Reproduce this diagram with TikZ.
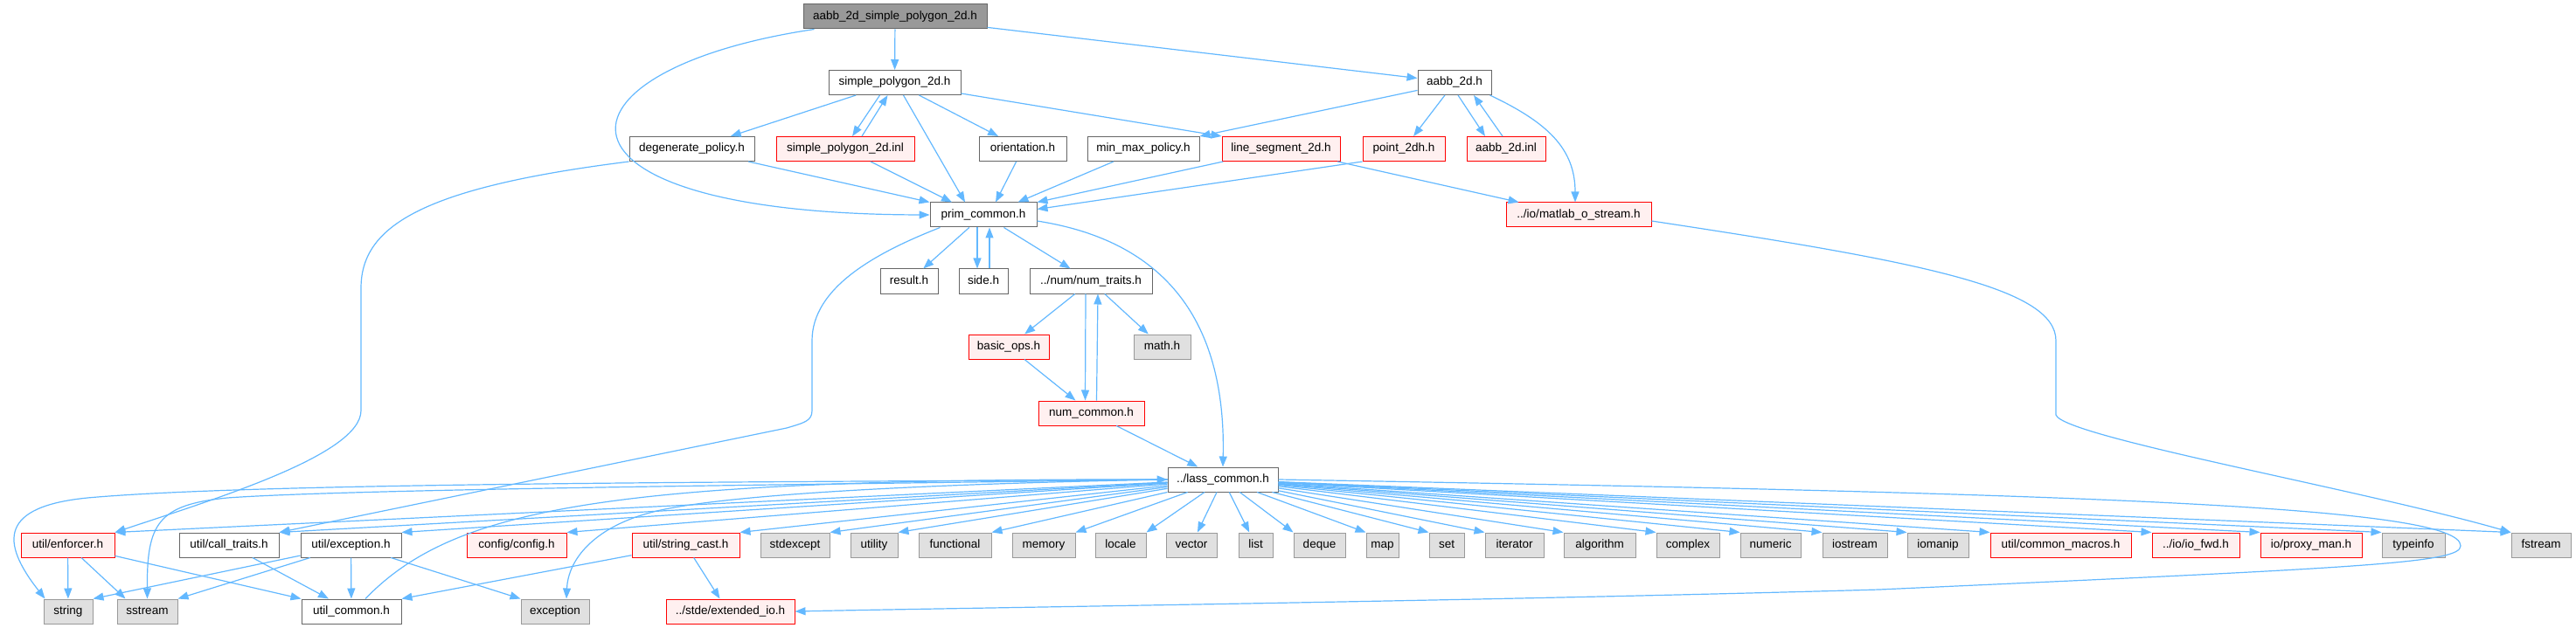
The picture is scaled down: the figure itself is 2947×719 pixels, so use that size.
\documentclass[tikz,border=0pt]{standalone}
\usepackage{fontspec}
\setmainfont{Liberation Sans}
\usetikzlibrary{arrows.meta,positioning}
\definecolor{depblue}{HTML}{63B8FF}
\definecolor{boxgray}{HTML}{666666}
\definecolor{sysline}{HTML}{999999}
\definecolor{sysfill}{HTML}{E0E0E0}
\definecolor{missfill}{HTML}{FFF0F0}
\definecolor{mainfill}{HTML}{999999}

\begin{document}
\begin{tikzpicture}[x=1pt, y=-1pt,
		file/.style={draw=boxgray, fill=white, line width=1pt, minimum height=28pt, inner xsep=2pt, inner ysep=0pt,
			text height=10pt, text depth=3pt, font=\fontsize{13.5}{16}\selectfont},
		sys/.style={file, draw=sysline, fill=sysfill},
		miss/.style={file, draw=red, fill=missfill},
		mainfile/.style={file, fill=mainfill},
		dep/.style={draw=depblue, line width=1.2pt, -{Triangle[length=12pt,width=9pt]}}]
		\useasboundingbox (0,0) rectangle (2947,719);

		\node[mainfile, minimum width=210pt] (top) at (1024,19) {aabb\_2d\_simple\_polygon\_2d.h};

		\node[file, minimum width=151pt] (spoly) at (1023.5,94.5) {simple\_polygon\_2d.h};
		\node[file, minimum width=84pt] (aabb) at (1664,94.5) {aabb\_2d.h};

		\node[file, minimum width=143pt] (degen) at (791.5,170.5) {degenerate\_policy.h};
		\node[miss, minimum width=158pt] (spinl) at (967,170.5) {simple\_polygon\_2d.inl};
		\node[file, minimum width=100pt] (orient) at (1170,170.5) {orientation.h};
		\node[file, minimum width=128pt] (minmax) at (1308,170.5) {min\_max\_policy.h};
		\node[miss, minimum width=135pt] (lineseg) at (1465.5,170.5) {line\_segment\_2d.h};
		\node[miss, minimum width=94pt] (point) at (1606,170.5) {point\_2dh.h};
		\node[miss, minimum width=90pt] (aabbinl) at (1723,170.5) {aabb\_2d.inl};

		\node[file, minimum width=122pt] (prim) at (1125,246) {prim\_common.h};
		\node[miss, minimum width=166pt] (matlab) at (1806,246) {../io/matlab\_o\_stream.h};

		\node[file, minimum width=66pt] (result) at (1040,322) {result.h};
		\node[file, minimum width=56pt] (side) at (1125,322) {side.h};
		\node[file, minimum width=140pt] (numtraits) at (1248,322) {../num/num\_traits.h};

		\node[miss, minimum width=92pt] (basicops) at (1154,397) {basic\_ops.h};
		\node[sys, minimum width=65pt] (math) at (1329.5,397) {math.h};
		\node[miss, minimum width=121pt] (numcommon) at (1248.5,473) {num\_common.h};
		\node[file, minimum width=126pt] (lass) at (1399,549) {../lass\_common.h};

		\node[miss, minimum width=107pt] (enforcer) at (77.5,624) {util/enforcer.h};
		\node[file, minimum width=114pt] (calltraits) at (262,624) {util/call\_traits.h};
		\node[file, minimum width=115pt] (exceptionh) at (401.5,624) {util/exception.h};
		\node[miss, minimum width=114pt] (config) at (591,624) {config/config.h};
		\node[miss, minimum width=123pt] (stringcast) at (784.5,624) {util/string\_cast.h};
		\node[sys, minimum width=79pt] (stdexcept) at (909.5,624) {stdexcept};
		\node[sys, minimum width=54pt] (utility) at (1000,624) {utility};
		\node[sys, minimum width=83pt] (functional) at (1092.5,624) {functional};
		\node[sys, minimum width=72pt] (memory) at (1194,624) {memory};
		\node[sys, minimum width=58pt] (locale) at (1282,624) {locale};
		\node[sys, minimum width=58pt] (vector) at (1363,624) {vector};
		\node[sys, minimum width=39pt] (list) at (1436.5,624) {list};
		\node[sys, minimum width=59pt] (deque) at (1509.5,624) {deque};
		\node[sys, minimum width=37pt] (map) at (1581.5,624) {map};
		\node[sys, minimum width=40pt] (set) at (1655,624) {set};
		\node[sys, minimum width=67pt] (iterator) at (1732.5,624) {iterator};
		\node[sys, minimum width=82pt] (algorithm) at (1830,624) {algorithm};
		\node[sys, minimum width=72pt] (complex) at (1931,624) {complex};
		\node[sys, minimum width=69pt] (numeric) at (2025.5,624) {numeric};
		\node[sys, minimum width=74pt] (iostream) at (2122,624) {iostream};
		\node[sys, minimum width=70pt] (iomanip) at (2217,624) {iomanip};
		\node[miss, minimum width=161pt] (macros) at (2357.5,624) {util/common\_macros.h};
		\node[miss, minimum width=100pt] (iofwd) at (2512,624) {../io/io\_fwd.h};
		\node[miss, minimum width=116pt] (proxyman) at (2644,624) {io/proxy\_man.h};
		\node[sys, minimum width=72pt] (typeinfo) at (2761,624) {typeinfo};
		\node[sys, minimum width=68pt] (fstream) at (2907,624) {fstream};

		\node[sys, minimum width=56pt] (string) at (78,700) {string};
		\node[sys, minimum width=69pt] (sstream) at (168.5,700) {sstream};
		\node[file, minimum width=114pt] (utilcommon) at (402,700) {util\_common.h};
		\node[sys, minimum width=78pt] (exception) at (635,700) {exception};
		\node[miss, minimum width=147pt] (extio) at (835.5,700) {../stde/extended\_io.h};

		\draw[dep] (top) -- (spoly);
		\draw[dep] (top) -- (aabb);
		\draw[dep] ([xshift=13pt]top.south west) .. controls (620,80) and (600,245) .. (prim.west);

		\draw[dep] (spoly) -- (degen);
		\draw[dep] ([xshift=-17pt]spoly.south) -- ([xshift=8pt]spinl.north);
		\draw[dep] ([xshift=19pt]spinl.north) -- ([xshift=-8pt]spoly.south);
		\draw[dep] ([xshift=10pt]spoly.south) -- ([xshift=-21pt]prim.north);
		\draw[dep] (spoly) -- (orient);
		\draw[dep] (spoly) -- (lineseg.north west);

		\draw[dep] (aabb) -- (minmax.north east);
		\draw[dep] (aabb) -- (point);
		\draw[dep] ([xshift=4pt]aabb.south) -- ([xshift=-24pt]aabbinl.north);
		\draw[dep] ([xshift=-4pt]aabbinl.north) -- ([xshift=22pt]aabb.south);
		\draw[dep] ([xshift=-2pt]aabb.south east) .. controls (1770,140) and (1802,170) .. ([xshift=-4pt]matlab.north);

		\draw[dep] (degen) -- (prim.north west);
		\draw[dep] (degen.south west) .. controls (480,215) and (413,260) .. (413,330) -- (413,470)
			.. controls (413,520) and (250,570) .. (enforcer.north east);
		\draw[dep] (spinl) -- ([xshift=-36pt]prim.north);
		\draw[dep] (orient) -- ([xshift=14pt]prim.north);
		\draw[dep] (minmax) -- ([xshift=-22pt]prim.north east);
		\draw[dep] (lineseg) -- (prim.north east);
		\draw[dep] (lineseg) -- ([xshift=15pt]matlab.north west);
		\draw[dep] (point.south west) -- ([yshift=-8pt]prim.north east);
		\draw[dep] ([yshift=-7pt]matlab.east) .. controls (2200,300) and (2352,330) .. (2352,390) -- (2352,475)
			.. controls (2360,500) and (2700,560) .. (fstream.north west);

		\draw[dep] (prim) -- (result);
		\draw[dep] ([xshift=-7pt]prim.south) -- ([xshift=-7pt]side.north);
		\draw[dep] ([xshift=7pt]side.north) -- ([xshift=7pt]prim.south);
		\draw[dep] (prim) -- (numtraits);
		\draw[dep] ([yshift=-7pt]prim.east) .. controls (1360,280) and (1402,400) .. (lass.north);
		\draw[dep] ([xshift=12pt]prim.south west) .. controls (1000,290) and (929,330) .. (929,390) -- (929,470)
			.. controls (929,482) and (920,484) .. (900,490) -- (calltraits.north east);

		\draw[dep] (numtraits) -- (basicops);
		\draw[dep] ([xshift=-6pt]numtraits.south) -- ([xshift=-7pt]numcommon.north);
		\draw[dep] ([xshift=6pt]numcommon.north) -- ([xshift=8pt]numtraits.south);
		\draw[dep] (numtraits) -- (math);
		\draw[dep] (basicops) -- (numcommon);
		\draw[dep] (numcommon) -- (lass);

		\foreach \t in {enforcer,calltraits,exceptionh,config,stringcast,stdexcept,utility,functional,memory,locale}
			\draw[dep] (lass) -- (\t.north east);
		\draw[dep] (lass) -- (vector);
		\draw[dep] (lass) -- (list);
		\foreach \t in {deque,map,set,iterator,algorithm,complex,numeric,iostream,iomanip,macros,iofwd,proxyman,typeinfo,fstream}
			\draw[dep] (lass) -- (\t.north west);
		\draw[dep] (lass.west) .. controls (900,552) and (300,552) .. (100,570)
			.. controls (0,580) and (0,620) .. ([xshift=2pt]string.north west);
		\draw[dep] (lass.west) .. controls (900,555) and (400,560) .. (260,570)
			.. controls (180,578) and (168,600) .. (sstream.north);
		\draw[dep] (lass.west) .. controls (1000,555) and (800,570) .. (740,588)
			.. controls (680,605) and (650,640) .. ([xshift=13pt]exception.north);
		\draw[dep] (lass.east) .. controls (2400,565) and (2815,580) .. (2815,625)
			.. controls (2815,645) and (2700,650) .. (2150,675)
			.. controls (1700,688) and (1100,696) .. (extio.east);

		\draw[dep] (enforcer) -- (string);
		\draw[dep] (enforcer) -- ([xshift=10pt]sstream.north west);
		\draw[dep] (enforcer) -- (utilcommon.north west);
		\draw[dep] (calltraits) -- ([xshift=-26pt]utilcommon.north);
		\draw[dep] (exceptionh) -- (string.north east);
		\draw[dep] (exceptionh) -- (sstream.north east);
		\draw[dep] (exceptionh) -- (utilcommon);
		\draw[dep] (exceptionh) -- (exception.north west);
		\draw[dep] (stringcast) -- (utilcommon.north east);
		\draw[dep] (stringcast) -- ([xshift=-12pt]extio.north);
		\draw[dep] ([xshift=16pt]utilcommon.north) .. controls (520,580) and (700,548) .. (lass.west);
	\end{tikzpicture}
\end{document}
